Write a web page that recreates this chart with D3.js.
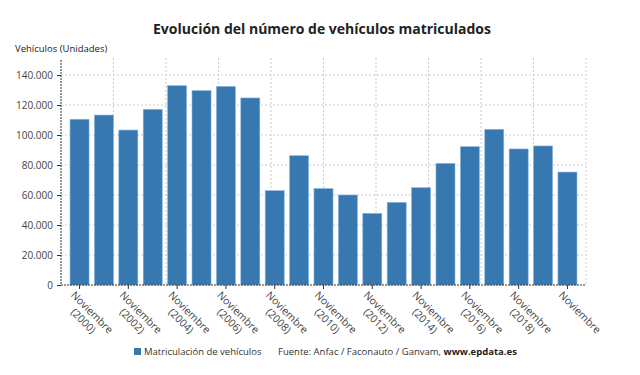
<!DOCTYPE html>
<html>
<head>
<meta charset="utf-8">
<script src="https://cdn.jsdelivr.net/npm/d3@7"></script>
<style>
  body { margin: 0; background: #fff; }
  svg { font-family: "Open Sans", sans-serif; }
</style>
</head>
<body>
<div id="chart"></div>
<script>
// data (noviembre of each year)
const years = d3.range(2000, 2021)
const values = [110500, 113300, 103300, 117100, 132900, 129600, 132400, 124700, 62900, 86200,
  64300, 60000, 47800, 55100, 64900, 81100, 92200, 103800, 90700, 92700, 75300]
const tickYears = [2000, 2002, 2004, 2006, 2008, 2010, 2012, 2014, 2016, 2018, 2020]
const tickLabels = ['Noviembre (2000)', 'Noviembre (2002)', 'Noviembre (2004)', 'Noviembre (2006)',
  'Noviembre (2008)', 'Noviembre (2010)', 'Noviembre (2012)', 'Noviembre (2014)',
  'Noviembre (2016)', 'Noviembre (2018)', 'Noviembre']
const yTicks = [0, 20000, 40000, 60000, 80000, 100000, 120000, 140000]

var chart_width  = 640;
var chart_height = 375;
var plotLeft = 61, plotRight = 586, plotTop = 60, plotBottom = 285;
var barColor = '#3778b1';

var svg = d3.select('#chart')
  .append('svg')
  .attr('width', chart_width)
  .attr('height', chart_height);

const x_scale = d3.scaleBand()
  .domain(years)
  .range([plotLeft, plotRight])
  .paddingInner(0.22)
  .paddingOuter(0.37)

const y_scale = d3.scaleLinear()
  .domain([0, 150000])
  .range([plotBottom, plotTop])

const fmt = d => d3.format(',')(d).replace(/,/g, '.')

// title
svg.append('text')
  .attr('x', 322).attr('y', 34)
  .attr('text-anchor', 'middle')
  .attr('font-size', 14).attr('font-weight', 'bold')
  .attr('fill', '#222')
  .text('Evolución del número de vehículos matriculados')

svg.append('text')
  .attr('x', 15).attr('y', 52)
  .attr('font-size', 9.5)
  .attr('fill', '#222')
  .text('Vehículos (Unidades)')

// grid
const gx = d3.scaleLinear().domain([0, 10]).range([plotLeft, plotRight])
svg.append('g').selectAll('line')
  .data(d3.range(1, 11))
  .enter().append('line')
  .attr('x1', d => gx(d)).attr('x2', d => gx(d))
  .attr('y1', plotTop - 2).attr('y2', plotBottom)
  .attr('stroke', '#ccc').attr('stroke-dasharray', '2,2')

svg.append('g').selectAll('line')
  .data(yTicks.slice(1))
  .enter().append('line')
  .attr('x1', plotLeft).attr('x2', plotRight)
  .attr('y1', d => y_scale(d)).attr('y2', d => y_scale(d))
  .attr('stroke', '#ccc').attr('stroke-dasharray', '2,2')

// bars
svg.append('g').selectAll('rect')
  .data(values)
  .enter().append('rect')
  .attr('x', (d, i) => x_scale(years[i]))
  .attr('y', d => y_scale(d))
  .attr('width', x_scale.bandwidth())
  .attr('height', d => plotBottom - y_scale(d))
  .attr('fill', barColor)
  .attr('stroke', '#8ab6de')
  .attr('stroke-width', 0.6)

// y axis
const yAxis = svg.append('g')
  .attr('transform', `translate(${plotLeft},0)`)
  .call(d3.axisLeft(y_scale).tickValues(yTicks).tickFormat(fmt).tickSize(4).tickPadding(4))
yAxis.select('.domain').remove()
yAxis.selectAll('line').attr('stroke', '#333')
yAxis.selectAll('text').attr('font-size', 10).attr('fill', '#444').attr('font-family', '"Open Sans", sans-serif')

svg.append('line')
  .attr('x1', plotLeft).attr('x2', plotLeft).attr('y1', plotTop).attr('y2', plotBottom)
  .attr('stroke', '#333').attr('stroke-dasharray', '2,1')
svg.append('line')
  .attr('x1', plotLeft).attr('x2', plotRight).attr('y1', plotBottom).attr('y2', plotBottom)
  .attr('stroke', '#333').attr('stroke-dasharray', '2,1')

// x ticks + rotated labels
const xt = svg.append('g')
tickYears.forEach((yr, i) => {
  const cx = x_scale(yr) + x_scale.bandwidth() / 2
  xt.append('line')
    .attr('x1', cx).attr('x2', cx).attr('y1', plotBottom).attr('y2', plotBottom + 4)
    .attr('stroke', '#333')
  const parts = tickLabels[i].split(' ')
  const t = xt.append('text')
    .attr('transform', `translate(${cx - 3},${plotBottom + 6}) rotate(45)`)
    .attr('font-size', 10.5).attr('fill', '#444')
    .attr('text-anchor', 'middle')
  const w = 52
  parts.forEach((p, j) => {
    t.append('tspan').attr('x', w / 2).attr('dy', j === 0 ? '0.75em' : '1.15em').text(p)
  })
})

// legend & source
svg.append('rect')
  .attr('x', 134).attr('y', 348).attr('width', 7).attr('height', 7)
  .attr('fill', barColor)
svg.append('text')
  .attr('x', 144).attr('y', 355)
  .attr('font-size', 9.5).attr('fill', '#333')
  .text('Matriculación de vehículos')
const src = svg.append('text')
  .attr('x', 278).attr('y', 355)
  .attr('font-size', 9.5).attr('fill', '#333')
src.append('tspan').text('Fuente: Anfac / Faconauto / Ganvam, ')
src.append('tspan').attr('font-weight', 'bold').attr('fill', '#222').text('www.epdata.es')
</script>
</body>
</html>
